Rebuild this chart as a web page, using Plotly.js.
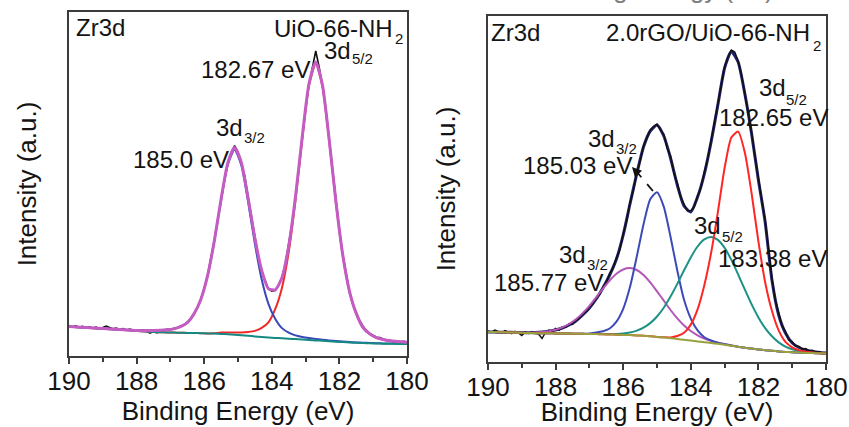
<!DOCTYPE html>
<html><head><meta charset="utf-8">
<script src="https://cdn.plot.ly/plotly-3.0.1.min.js"></script>
<style>html,body{margin:0;padding:0;background:#fff;}#chart{width:849px;height:427px;}</style>
</head><body><div id="chart"></div>
<script>
// ---------- measured spectra (binding energy in eV, intensity in arbitrary units) ----------
const xData = [190.0,189.9,189.8,189.7,189.6,189.5,189.4,189.3,189.2,189.1,189.0,188.9,188.8,188.7,188.6,188.5,188.4,188.3,188.2,188.1,
188.0,187.9,187.8,187.7,187.6,187.5,187.4,187.3,187.2,187.1,187.0,186.9,186.8,186.7,186.6,186.5,186.4,186.3,186.2,186.1,
186.0,185.9,185.8,185.7,185.6,185.5,185.4,185.3,185.2,185.1,185.0,184.9,184.8,184.7,184.6,184.5,184.4,184.3,184.2,184.1,
184.0,183.9,183.8,183.7,183.6,183.5,183.4,183.3,183.2,183.1,183.0,182.9,182.8,182.7,182.6,182.5,182.4,182.3,182.2,182.1,
182.0,181.9,181.8,181.7,181.6,181.5,181.4,181.3,181.2,181.1,181.0,180.9,180.8,180.7,180.6,180.5,180.4,180.3,180.2,180.1,180.0];

const yDataL = [30.5,29.0,30.2,28.8,29.6,28.3,29.1,28.0,28.9,27.6,28.4,29.8,28.6,27.2,27.9,26.6,27.4,26.0,26.8,25.7,
26.3,25.1,25.9,24.4,22.8,24.8,23.2,25.9,25.3,26.8,26.4,27.6,28.0,29.9,31.0,33.8,37.5,42.9,48.7,57.2,
67.5,80.9,96.8,115.5,135.8,157.0,176.0,192.0,203.5,210.5,204.0,192.5,180.0,159.0,138.0,117.0,99.5,84.8,75.0,67.0,
64.8,65.5,70.5,78.8,92.0,110.5,133.0,158.0,189.5,218.5,247.0,271.5,287.5,305.0,289.0,270.0,246.0,216.0,185.5,154.5,
126.0,101.5,81.0,64.0,51.5,43.5,35.5,29.8,25.0,22.5,20.6,18.8,18.5,16.8,16.0,15.6,14.2,15.0,14.3,14.8,14.0];

const yDataR = [31.0,29.5,31.8,30.2,29.0,31.5,30.0,28.4,30.6,29.2,26.5,30.0,28.5,30.4,29.0,27.8,23.5,29.5,31.8,30.4,
33.5,31.6,35.2,34.8,38.5,37.6,42.0,43.5,48.0,50.2,55.0,58.4,64.0,67.5,75.0,79.5,88.5,94.0,104.0,112.5,
128.0,141.0,159.0,172.0,189.5,201.0,216.0,224.0,232.0,235.5,238.0,232.0,228.0,214.0,206.0,189.0,179.0,165.0,158.0,151.0,
151.5,155.0,166.0,174.0,190.0,203.0,221.0,238.0,258.0,277.0,295.0,305.0,312.0,310.0,301.0,287.0,269.0,249.0,229.0,205.0,
183.0,160.0,141.0,113.0,84.0,62.0,48.5,36.0,30.5,22.0,20.5,16.0,15.5,12.8,13.5,11.0,11.8,9.5,10.4,8.8,9.5];

// ---------- fitted curves, left panel (UiO-66-NH2) ----------
const xFitL = [190.0,189.5,189.0,188.5,188.0,187.5,187.3,187.1,186.9,186.7,186.5,186.3,186.1,185.9,185.7,185.5,185.3,185.1,184.9,184.7,
184.5,184.3,184.1,183.9,183.7,183.5,183.3,183.1,182.9,182.7,182.5,182.3,182.1,181.9,181.7,181.5,181.3,181.1,180.9,180.7,
180.5,180.3,180.1,180.0];
const bgL   = [29.3,28.3,27.3,26.3,25.2,24.0,23.8,23.6,23.4,23.3,23.1,23.0,22.8,22.6,22.4,22.1,21.7,21.3,20.8,20.2,
19.6,19.0,18.5,18.1,17.7,17.3,16.9,16.5,16.1,15.6,15.2,14.7,14.3,13.9,13.5,13.2,12.9,12.7,12.5,12.3,
12.2,12.1,12.0,12.0];
const d32L  = [29.4,28.4,27.5,26.6,25.7,25.5,25.7,26.2,27.1,29.4,33.3,42.2,56.5,80.3,114.9,155.7,191.5,206.3,190.6,153.8,
112.1,76.7,52.2,37.3,27.9,23.4,20.6,19.1,18.0,17.1,16.3,15.6,15.0,14.5,14.0,13.6,13.3,13.0,12.8,12.6,
12.5,12.4,12.3,12.3];
const d52L  = [29.3,28.3,27.3,26.3,25.2,24.0,23.8,23.6,23.4,23.3,23.1,23.0,22.8,22.6,22.7,23.5,23.4,23.5,23.6,24.1,
25.1,28.1,33.7,46.9,68.1,103.7,155.4,216.5,270.4,292.6,269.5,214.7,152.8,100.3,63.9,42.0,28.1,21.8,18.0,16.2,
15.0,14.3,13.7,13.5];
const envL  = [29.4,28.4,27.4,26.4,25.4,25.5,25.7,26.2,27.1,29.4,33.3,42.2,56.5,80.3,115.2,157.1,193.2,208.5,193.4,157.7,
117.6,85.8,67.4,66.1,78.3,109.8,159.1,219.1,272.3,294.1,270.6,215.6,153.5,100.9,64.4,42.4,28.5,22.1,18.3,16.5,
15.3,14.6,14.0,13.8];

// ---------- fitted curves, right panel (2.0rGO/UiO-66-NH2) ----------
const xFitR = [190.0,189.8,189.6,189.4,189.2,189.0,188.8,188.6,188.4,188.2,188.0,187.8,187.6,187.4,187.2,187.0,186.8,186.6,186.4,186.2,
186.0,185.8,185.6,185.4,185.2,185.0,184.8,184.6,184.4,184.2,184.0,183.8,183.6,183.4,183.2,183.0,182.8,182.6,182.4,182.2,
182.0,181.8,181.6,181.4,181.2,181.0,180.8,180.6,180.4,180.2,180.0];
const bgR   = [30.0,29.9,29.8,29.6,29.4,29.2,29.0,28.8,28.7,28.7,28.6,28.5,28.4,28.3,28.2,28.0,27.9,27.7,27.5,27.3,
27.1,26.9,26.6,26.2,25.7,25.1,24.5,23.8,23.0,22.2,21.4,20.6,19.8,19.0,18.2,17.3,16.3,15.3,14.3,13.4,
12.6,11.8,11.2,10.6,10.1,9.7,9.4,9.1,8.9,8.7,8.5];
const d32bR = [30.0,29.9,29.8,29.7,29.5,29.3,29.3,29.4,29.9,30.8,32.3,34.6,38.0,42.7,48.9,56.2,64.7,73.3,81.5,88.2,
92.5,93.9,92.0,87.1,79.7,70.7,61.3,52.0,43.7,36.6,31.0,26.7,23.5,21.1,19.4,17.9,16.6,15.3,14.3,13.4,
12.6,11.8,11.2,10.6,10.1,9.7,9.4,9.1,8.9,8.7,8.5];
const d32aR = [30.0,29.9,29.8,29.6,29.4,29.2,29.0,28.8,28.7,28.7,28.6,28.5,28.4,28.3,28.2,28.6,29.4,30.7,33.5,40.3,
53.1,74.9,105.1,137.6,162.8,169.8,155.4,125.3,91.5,62.2,43.4,31.6,24.8,21.5,19.4,17.8,16.5,15.3,14.3,13.4,
12.6,11.8,11.2,10.6,10.1,9.7,9.4,9.1,8.9,8.7,8.5];
const d52bR = [30.0,29.9,29.8,29.6,29.4,29.2,29.0,28.8,28.7,28.7,28.6,28.5,28.4,28.3,28.2,28.0,28.0,27.9,27.9,28.0,
28.5,29.6,31.4,34.4,38.9,45.5,54.3,65.4,78.1,91.7,104.6,115.5,122.6,125.0,122.1,114.1,102.1,87.6,72.3,57.6,
44.6,33.8,25.7,19.6,15.4,12.7,11.0,9.9,9.3,8.9,8.5];
const d52aR = [30.0,29.9,29.8,29.6,29.4,29.2,29.0,28.8,28.7,28.7,28.6,28.5,28.4,28.3,28.2,28.0,27.9,27.7,27.5,27.3,
27.1,26.9,26.6,26.2,25.7,25.1,24.7,24.6,26.0,29.2,37.4,52.6,76.8,109.0,149.7,194.0,224.5,230.4,209.2,168.4,
120.6,79.8,51.2,31.6,20.1,14.7,11.9,10.3,9.4,8.7,8.5];
const envR  = [30.0,29.9,29.8,29.7,29.6,29.4,29.3,29.4,29.9,30.8,32.0,34.0,37.0,41.0,47.0,54.0,63.0,74.0,87.0,103.0,
127.0,158.0,188.0,215.0,231.0,237.0,226.0,204.0,177.0,156.0,150.0,165.0,188.0,220.0,257.0,294.0,310.5,300.0,268.0,228.0,
182.0,140.0,82.0,47.0,29.0,19.0,14.5,12.0,10.5,9.5,9.0];

const tickVals = [190,188,186,184,182,180];
const tickText = ['190','188','186','184','182','180'];

// ---------- layout helpers ----------
const W = 849, H = 427;
const FONT = 'Arial, Liberation Sans, sans-serif';
const INK = '#141414', FRAME = '#3c3c3c';
const X = p => p / W, Y = p => 1 - p / H;

function line(x, y, xa, ya, color, width, shape) {
  return {x, y, xaxis: xa, yaxis: ya, type: 'scatter', mode: 'lines',
    line: {color, width, shape: shape || 'spline', smoothing: 0.6}, hoverinfo: 'skip', showlegend: false};
}

const traces = [
  // left panel
  line(xData, yDataL, 'x', 'y', '#111111', 1.6, 'linear'),
  line(xFitL, d52L, 'x', 'y', '#f02828', 2),
  line(xFitL, d32L, 'x', 'y', '#3848b8', 2),
  line(xFitL, bgL, 'x', 'y', '#158a84', 2),
  line(xFitL, envL, 'x', 'y', '#c45cc4', 3),
  // right panel
  line(xFitR, envR, 'x2', 'y2', '#232372', 3),
  line(xData, yDataR, 'x2', 'y2', '#111111', 1.5, 'linear'),
  line(xFitR, d32bR, 'x2', 'y2', '#b455b8', 2),
  line(xFitR, d32aR, 'x2', 'y2', '#3c4ab8', 2),
  line(xFitR, d52bR, 'x2', 'y2', '#1b9284', 2),
  line(xFitR, d52aR, 'x2', 'y2', '#ff2626', 2),
  line(xFitR, bgR, 'x2', 'y2', '#99a03c', 2)
];

function xAxis(d0, d1, anchor) {
  return {domain: [X(d0), X(d1)], anchor, range: [190, 180], tickmode: 'array', tickvals: tickVals, ticktext: tickText,
    ticks: 'outside', ticklen: 6, tickwidth: 1.5, tickcolor: FRAME, ticklabelstandoff: -5,
    minor: {ticks: 'outside', dtick: 1, tick0: 180, ticklen: 4, tickwidth: 1.5, tickcolor: FRAME},
    showline: true, mirror: true, linecolor: FRAME, linewidth: 1.5, showgrid: false, zeroline: false,
    tickfont: {family: FONT, size: 26, color: INK},
    title: {text: 'Binding Energy (eV)', font: {family: FONT, size: 26, color: INK}, standoff: 0},
    automargin: false, fixedrange: true};
}
function yAxis(top, bottom, anchor, maxv) {
  return {domain: [Y(bottom), Y(top)], anchor, range: [0, maxv], showticklabels: false, ticks: '',
    showline: true, mirror: true, linecolor: FRAME, linewidth: 1.5, showgrid: false, zeroline: false,
    title: {text: 'Intensity (a.u.)', font: {family: FONT, size: 26, color: INK}, standoff: 23},
    automargin: false, fixedrange: true};
}

// text placed by its left edge and the vertical centre of its capitals (pixels from top-left)
function label(text, xpx, ypx, size) {
  return {text, xref: 'paper', yref: 'paper', x: X(xpx), y: Y(ypx), xanchor: 'left', yanchor: 'middle',
    showarrow: false, font: {family: FONT, size: size || 24, color: INK}};
}
const SUB = 15;

const annotations = [
  // left panel
  label('Zr3d', 74, 28),
  label('UiO-66-NH', 272, 29), label('2', 393, 39, SUB),
  label('3d', 322, 50), label('5/2', 350, 59, SUB),
  label('182.67 eV', 199, 70),
  label('3d', 214, 127), label('3/2', 242, 137, SUB),
  label('185.0 eV', 131, 159),
  // right panel
  label('Zr3d', 489, 33),
  label('2.0rGO/UiO-66-NH', 604, 33), label('2', 811, 45, SUB),
  label('3d', 757, 87), label('5/2', 784, 99, SUB),
  label('182.65 eV', 717, 117),
  label('3d', 586, 138), label('3/2', 614, 149, SUB),
  label('185.03 eV', 521, 165),
  label('3d', 692, 225), label('5/2', 720, 237, SUB),
  label('183.38 eV', 716, 258),
  label('3d', 557, 254), label('3/2', 585, 264, SUB),
  label('185.77 eV', 492, 282),
  // arrowhead of the dashed pointer to the 185.03 eV component
  {text: '', xref: 'x2', yref: 'y2', x: 185.74, y: 195, axref: 'x2', ayref: 'y2', ax: 185.55, ay: 188,
    showarrow: true, arrowhead: 2, arrowsize: 1.2, arrowwidth: 1.6, arrowcolor: '#111111'},
  // clipped title of the panel above (only its lower edge shows)
  {text: 'Binding Energy (eV)', xref: 'paper', yref: 'paper', x: X(657), y: Y(6), xanchor: 'center', yanchor: 'bottom',
    showarrow: false, font: {family: FONT, size: 26, color: '#808080'}}
];

const shapes = [
  {type: 'line', xref: 'x2', yref: 'y2', x0: 185.12, y0: 171, x1: 185.62, y1: 191,
    line: {color: '#111111', width: 1.8, dash: 'dash'}}
];

const layout = {
  width: W, height: H, margin: {l: 0, r: 0, t: 0, b: 0},
  paper_bgcolor: '#ffffff', plot_bgcolor: '#ffffff', showlegend: false,
  font: {family: FONT, size: 24, color: INK},
  xaxis: xAxis(69, 407, 'y'),
  yaxis: yAxis(12, 356, 'x', 344),
  xaxis2: xAxis(488, 826, 'y2'),
  yaxis2: yAxis(16, 362, 'x2', 346),
  annotations, shapes
};

Plotly.newPlot('chart', traces, layout, {displayModeBar: false});
</script></body></html>
